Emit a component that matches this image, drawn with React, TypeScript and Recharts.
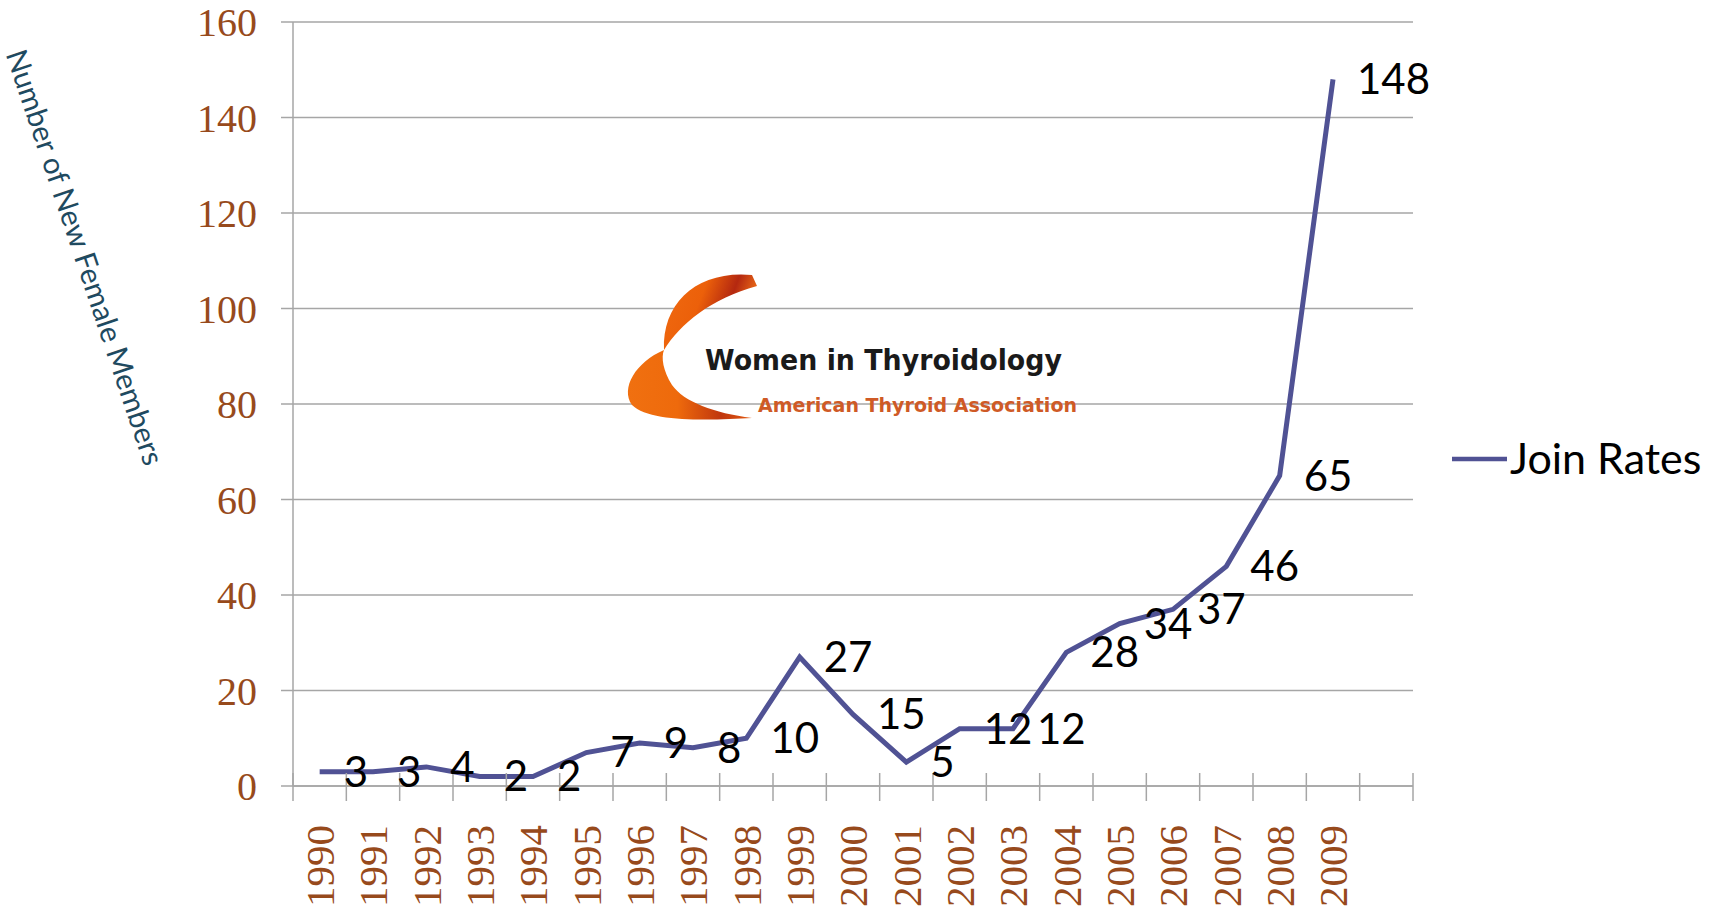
import { CartesianGrid, Legend, LabelList, Line, LineChart, XAxis, YAxis } from "recharts";

const years = [
  "1990", "1991", "1992", "1993", "1994", "1995", "1996", "1997", "1998", "1999",
  "2000", "2001", "2002", "2003", "2004", "2005", "2006", "2007", "2008", "2009", "",
];
const joinRates = [3, 3, 4, 2, 2, 7, 9, 8, 10, 27, 15, 5, 12, 12, 28, 34, 37, 46, 65, 148, null];
const yTicks = [0, 20, 40, 60, 80, 100, 120, 140, 160];

const data = years.map((year, i) => ({ year, joinRates: joinRates[i] }));

const W = 1725;
const H = 909;
const MARGIN = { top: 22, right: 312, bottom: 0, left: 0 };
const Y_AXIS_W = 293;
const X_AXIS_H = 123;
const BAND = (W - MARGIN.right - MARGIN.left - Y_AXIS_W) / years.length;

const BROWN = "#974a1c";
const GRID = "#a6a6a6";
const LINE = "#505294";
const SERIF = "'Liberation Serif', 'Times New Roman', serif";
const SANS = "Lato, 'Open Sans', sans-serif";

// eslint-disable-next-line @typescript-eslint/no-explicit-any
function YearTick({ x, y, payload, index }: any) {
  const last = index === years.length - 1;
  return (
    <g>
      <line x1={x - BAND / 2} x2={x - BAND / 2} y1={y - 13} y2={y + 15} stroke={GRID} strokeWidth={1.5} />
      {last && (
        <line x1={x + BAND / 2} x2={x + BAND / 2} y1={y - 13} y2={y + 15} stroke={GRID} strokeWidth={1.5} />
      )}
      <text
        transform={`translate(${x},${y + 39}) rotate(-90)`}
        textAnchor="end"
        dy="0.35em"
        fill={BROWN}
        style={{ fontFamily: SERIF }}
        fontSize={41}
      >
        {payload.value}
      </text>
    </g>
  );
}

function AxisTitle() {
  return (
    <text
      transform="translate(86,257) rotate(71.4)"
      textAnchor="middle"
      dominantBaseline="central"
      fill="#1f4a60"
      fontFamily={SANS}
      fontSize={29.5}
    >
      Number of New Female Members
    </text>
  );
}

// eslint-disable-next-line @typescript-eslint/no-explicit-any
function LegendBox({ payload }: any) {
  const item = payload && payload[0];
  return (
    <svg width={280} height={60}>
      <line x1={7} x2={62} y1={29} y2={29} stroke={LINE} strokeWidth={4.5} />
      <text x={65} y={29} dy="0.35em" fontFamily={SANS} fontSize={43} fill="#000">
        {item ? item.value : "Join Rates"}
      </text>
    </svg>
  );
}

function Logo() {
  return (
    <svg
      width={W}
      height={H}
      style={{ position: "absolute", left: 0, top: 0, pointerEvents: "none" }}
    >
      <defs>
        <linearGradient id="swoosh" x1="0" y1="0" x2="1" y2="0.3">
          <stop offset="0%" stopColor="#f06a10" />
          <stop offset="45%" stopColor="#ec600a" />
          <stop offset="75%" stopColor="#b42810" />
          <stop offset="100%" stopColor="#f27318" />
        </linearGradient>
        <linearGradient id="swoosh2" x1="0" y1="0" x2="1" y2="0">
          <stop offset="0%" stopColor="#f07010" />
          <stop offset="40%" stopColor="#ee6a0c" />
          <stop offset="75%" stopColor="#c0360e" />
          <stop offset="100%" stopColor="#e45c10" />
        </linearGradient>
      </defs>
      <path
        d="M 752,275 C 698,270 662,302 664,350 C 680,324 712,298 757,286 Z"
        fill="url(#swoosh)"
      />
      <path
        d="M 664,350 C 636,362 620,388 632,405 C 650,423 712,420 752,418 C 714,413 684,402 672,385 C 663,371 661,357 664,350 Z"
        fill="url(#swoosh2)"
      />
      <text
        x={705}
        y={370}
        fontFamily="'DejaVu Sans', sans-serif"
        fontWeight="bold"
        fontSize={29}
        fill="#1a1a1a"
        textLength={357}
        lengthAdjust="spacingAndGlyphs"
      >
        Women in Thyroidology
      </text>
      <text
        x={758}
        y={412}
        fontFamily="'DejaVu Sans', sans-serif"
        fontWeight="bold"
        fontSize={20}
        fill="#cf5a26"
        textLength={319}
        lengthAdjust="spacingAndGlyphs"
      >
        American Thyroid Association
      </text>
    </svg>
  );
}

export default function App() {
  return (
    <div style={{ position: "absolute", left: 0, top: 0, width: W, height: H, background: "#fff" }}>
      <LineChart width={W} height={H} data={data} margin={MARGIN}>
        <CartesianGrid vertical={false} stroke={GRID} strokeWidth={1.5} />
        <XAxis
          dataKey="year"
          scale="band"
          interval={0}
          height={X_AXIS_H}
          tickLine={false}
          tickSize={0}
          tickMargin={0}
          axisLine={{ stroke: GRID, strokeWidth: 1.5 }}
          tick={<YearTick />}
        />
        <YAxis
          width={Y_AXIS_W}
          domain={[0, 160]}
          ticks={yTicks}
          interval={0}
          tickSize={12}
          tickMargin={24}
          tickLine={{ stroke: GRID, strokeWidth: 1.5 }}
          axisLine={{ stroke: GRID, strokeWidth: 1.5 }}
          tick={{ fill: BROWN, fontFamily: SERIF, fontSize: 40 }}
          label={{ content: () => <AxisTitle /> }}
        />
        <Legend
          layout="horizontal"
          align="center"
          verticalAlign="middle"
          width={280}
          height={60}
          wrapperStyle={{ left: 1445, top: 430 }}
          content={<LegendBox />}
        />
        <Line
          type="linear"
          dataKey="joinRates"
          name="Join Rates"
          stroke={LINE}
          strokeWidth={5}
          dot={false}
          activeDot={false}
          isAnimationActive={false}
        >
          <LabelList
            dataKey="joinRates"
            position="right"
            offset={24}
            fill="#000"
            fontFamily={SANS}
            fontSize={42}
          />
        </Line>
      </LineChart>
      <Logo />
    </div>
  );
}
